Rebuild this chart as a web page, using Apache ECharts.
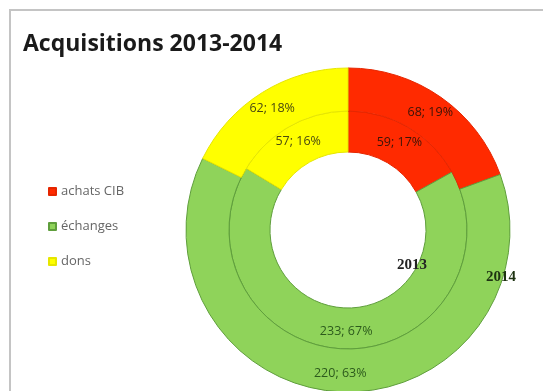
<!DOCTYPE html>
<html><head><meta charset="utf-8">
<script src="https://cdn.jsdelivr.net/npm/echarts@6/dist/echarts.min.js"></script>
<style>html,body{margin:0;padding:0;background:#fff}#c{width:543px;height:391px}</style>
</head><body><div id="c"></div>
<script>
const categories = ['achats CIB', 'échanges', 'dons'];
const values2013 = [59, 233, 57];
const values2014 = [68, 220, 62];
const ringNames = ['2013', '2014'];
const colors = ['#ff2a00', '#8fd35a', '#ffff00'];
const borders = ['#e52600', '#5f9e3c', '#e6e600'];
const labelColors = ['#3a1408', '#2c5a1c', '#4a4a10'];

function mk(vals) {
  return vals.map((v, i) => ({
    name: categories[i], value: v,
    itemStyle: { color: colors[i], borderColor: borders[i], borderWidth: 1 },
    label: { color: labelColors[i] }
  }));
}
const chart = echarts.init(document.getElementById('c'), null, { renderer: 'canvas' });
const lbl = { show: true, position: 'inside', formatter: p => p.value + '; ' + Math.round(p.percent) + '%',
  fontFamily: 'Open Sans', fontSize: 12.5 };
chart.setOption({
  animation: false,
  title: { text: 'Acquisitions 2013-2014', left: 18, top: 28,
    textStyle: { fontFamily: 'Open Sans', fontWeight: 'bold', fontSize: 23, color: '#1a1a1a' } },
  legend: { orient: 'vertical', left: 43, top: 180, itemWidth: 7, itemHeight: 7, itemGap: 22,
    icon: 'rect', data: categories,
    textStyle: { fontFamily: 'Open Sans', fontSize: 13, color: '#666' } },
  graphic: [
    { type: 'rect', shape: { x: 10, y: 10, width: 600, height: 420 },
      style: { fill: 'none', stroke: '#c4c4c4', lineWidth: 2 }, z: -1 },
    { type: 'text', left: 397, top: 258, z: 100, style: { text: ringNames[0], font: 'bold 15px "Liberation Serif"', fill: '#222' } },
    { type: 'text', left: 486, top: 270, z: 100, style: { text: ringNames[1], font: 'bold 15px "Liberation Serif"', fill: '#1e3312' } }
  ],
  series: [
    { name: ringNames[0], type: 'pie', center: [348, 230], radius: [78, 119], startAngle: 90,
      label: lbl, labelLine: { show: false }, data: mk(values2013), percentPrecision: 0 },
    { name: ringNames[1], type: 'pie', center: [348, 230], radius: [119, 162], startAngle: 90,
      label: lbl, labelLine: { show: false }, data: mk(values2014), percentPrecision: 0 }
  ]
});
</script></body></html>
